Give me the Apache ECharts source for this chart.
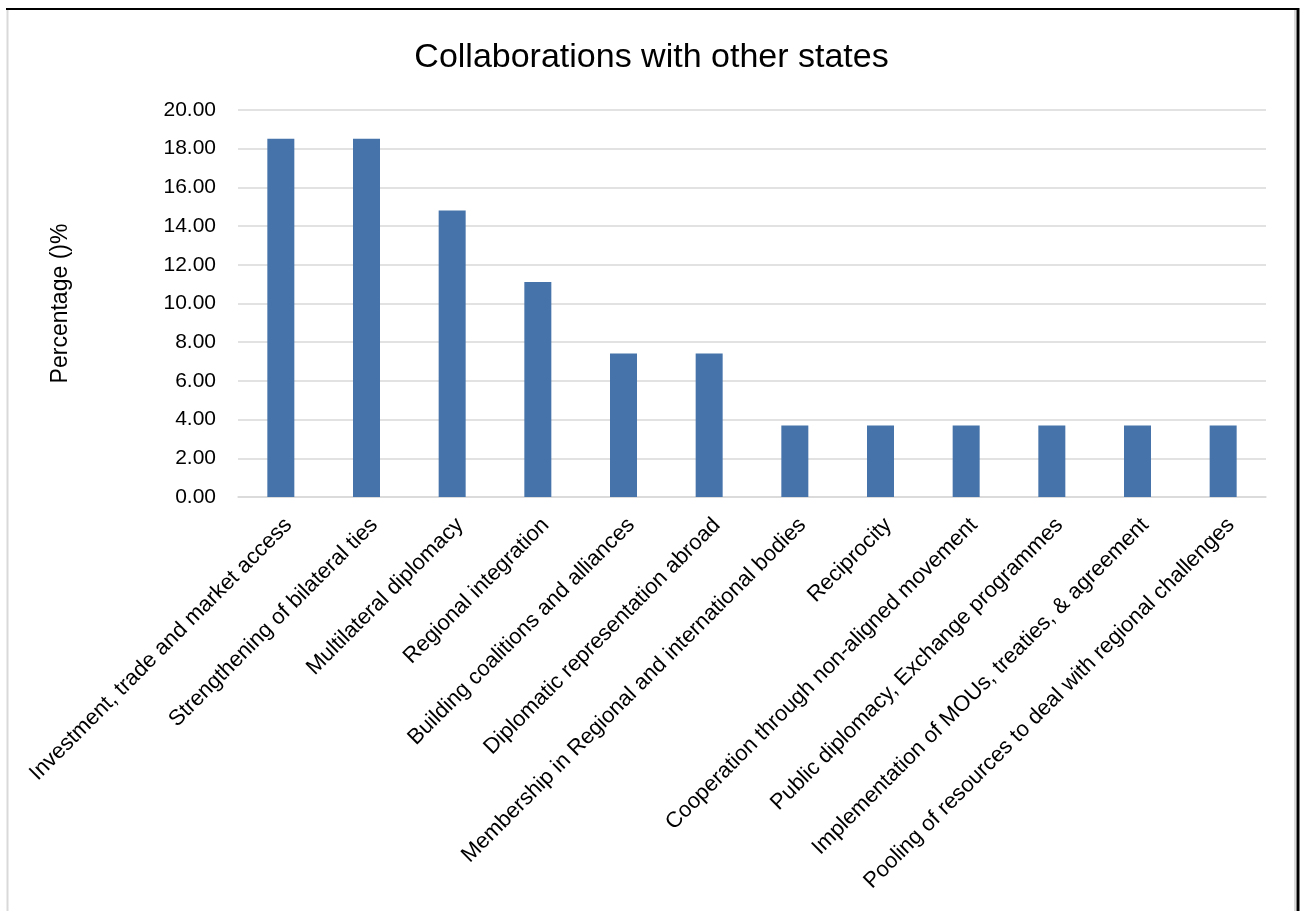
<!DOCTYPE html>
<html>
<head>
<meta charset="utf-8">
<script src="https://cdn.jsdelivr.net/npm/echarts@6/dist/echarts.min.js"></script>
<style>
html,body{margin:0;padding:0;background:#fff;}
#chart{width:1303px;height:911px;}
</style>
</head>
<body>
<div id="chart"></div>
<script>
const categories = [
  "Investment, trade and market access",
  "Strengthening of bilateral ties",
  "Multilateral diplomacy",
  "Regional integration",
  "Building coalitions and alliances",
  "Diplomatic representation abroad",
  "Membership in Regional and international bodies",
  "Reciprocity",
  "Cooperation through non-aligned movement",
  "Public diplomacy, Exchange programmes",
  "Implementation of MOUs, treaties, & agreement",
  "Pooling of resources to deal with regional challenges"
];
const values = [18.52, 18.52, 14.81, 11.11, 7.41, 7.41, 3.70, 3.70, 3.70, 3.70, 3.70, 3.70];
const chartTitle = "Collaborations with other states";
const yAxisName = "Percentage ()%";

const FONT = "Liberation Sans";
const chart = echarts.init(document.getElementById('chart'));
chart.setOption({
  backgroundColor: '#ffffff',
  animation: false,
  title: {
    text: chartTitle,
    left: 'center',
    top: 36,
    textStyle: { fontFamily: FONT, fontSize: 34, fontWeight: 'normal', color: '#000' }
  },
  grid: { left: 238, right: 37, top: 110, bottom: 414, containLabel: false },
  xAxis: {
    type: 'category',
    data: categories,
    axisLine: { lineStyle: { color: '#d9d9d9', width: 1.5 } },
    axisTick: { show: false },
    axisLabel: {
      interval: 0, rotate: 45, margin: 17,
      verticalAlign: 'top',
      fontFamily: FONT, fontSize: 22, color: '#000'
    }
  },
  yAxis: {
    type: 'value',
    min: 0, max: 20, interval: 2,
    name: yAxisName,
    nameLocation: 'middle',
    nameGap: 166,
    nameRotate: 90,
    nameTextStyle: { fontFamily: FONT, fontSize: 23, color: '#000' },
    axisLine: { show: false },
    axisTick: { show: false },
    splitLine: { lineStyle: { color: '#d9d9d9', width: 1.5 } },
    axisLabel: {
      margin: 22,
      fontFamily: FONT, fontSize: 21, color: '#000',
      formatter: v => v.toFixed(2)
    }
  },
  series: [{
    type: 'bar',
    data: values,
    barWidth: 27,
    itemStyle: { color: '#4674aa' }
  }],
  graphic: [
    { type: 'line', shape: { x1: 7.5, y1: 10, x2: 7.5, y2: 911 }, style: { stroke: '#d9d9d9', lineWidth: 2 } },
    { type: 'line', shape: { x1: 1295, y1: 10, x2: 1295, y2: 911 }, style: { stroke: '#d9d9d9', lineWidth: 2 } },
    { type: 'line', shape: { x1: 6, y1: 9, x2: 1299, y2: 9 }, style: { stroke: '#000', lineWidth: 2 } },
    { type: 'line', shape: { x1: 1298, y1: 8, x2: 1298, y2: 911 }, style: { stroke: '#000', lineWidth: 3 } }
  ]
});
</script>
</body>
</html>
